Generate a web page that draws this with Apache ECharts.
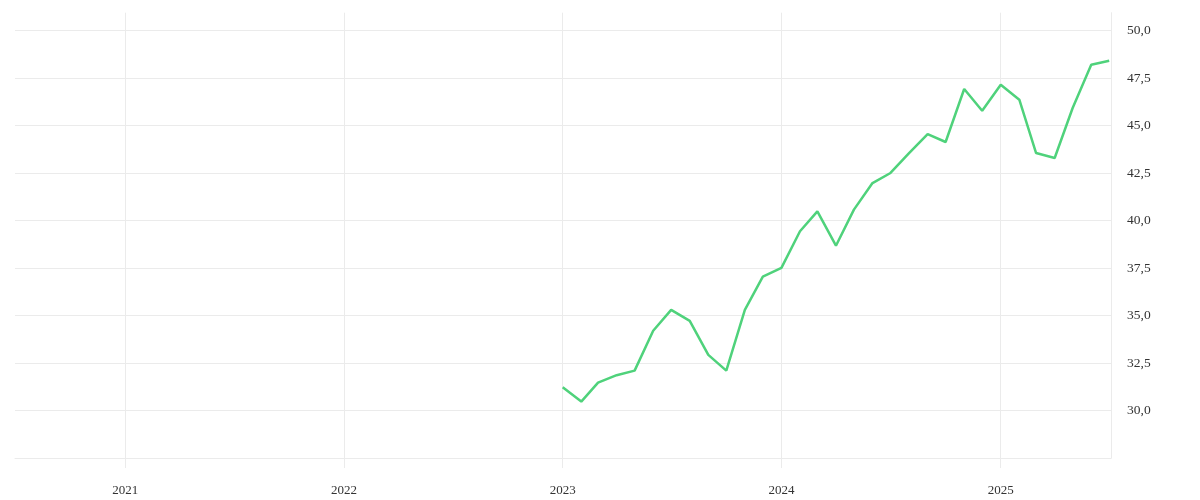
<!DOCTYPE html>
<html>
<head>
<meta charset="utf-8">
<script src="https://cdn.jsdelivr.net/npm/echarts@6/dist/echarts.min.js"></script>
<style>html,body{margin:0;padding:0;background:#fff}#c{width:1200px;height:500px}</style>
</head>
<body>
<div id="c"></div>
<script>
const dates = ['2023-01-01','2023-02-01','2023-03-01','2023-04-01','2023-05-01','2023-06-01','2023-07-01','2023-08-01','2023-09-01','2023-10-01','2023-11-01','2023-12-01',
  '2024-01-01','2024-02-01','2024-03-01','2024-04-01','2024-05-01','2024-06-01','2024-07-01','2024-08-01','2024-09-01','2024-10-01','2024-11-01','2024-12-01',
  '2025-01-01','2025-02-01','2025-03-01','2025-04-01','2025-05-01','2025-06-01','2025-07-01'];
const values = [31.23,30.47,31.47,31.86,32.1,34.2,35.3,34.72,32.93,32.1,35.3,37.05,
  37.51,39.44,40.49,38.68,40.58,41.98,42.51,43.56,44.56,44.14,46.93,45.79,
  47.16,46.37,43.56,43.3,45.93,48.21,48.42];
const yTicks = [30,32.5,35,37.5,40,42.5,45,47.5,50];

const chart = echarts.init(document.getElementById('c'), null, {renderer:'canvas'});
const font = '"Liberation Serif", serif';
chart.setOption({
  animation:false,
  backgroundColor:'#fff',
  grid:{left:15,right:89,top:12.7,bottom:42,containLabel:false},
  xAxis:{
    type:'time',
    min:'2020-07-01', max:'2025-07-04',
    minInterval:365*24*3600*1000,
    axisLine:{show:true,lineStyle:{color:'#ebebeb',width:1}},
    axisTick:{show:true,length:10,lineStyle:{color:'#ebebeb'}},
    splitLine:{show:true,showMinLine:false,showMaxLine:false,lineStyle:{color:'#ebebeb',width:1}},
    axisLabel:{margin:26,color:'#333',fontFamily:font,fontSize:13,
      formatter:function(v){const d=new Date(v);return (d.getMonth()===0&&d.getDate()===1)?String(d.getFullYear()):'';}}
  },
  yAxis:{
    type:'value',position:'right',min:27.5,max:50.95,interval:2.5,
    axisLine:{show:true,lineStyle:{color:'#ebebeb'}},
    axisTick:{show:false},
    splitLine:{show:true,showMaxLine:false,lineStyle:{color:'#ebebeb'}},
    axisLabel:{margin:16,color:'#333',fontFamily:font,fontSize:13.5,padding:[7,0,0,0],
      formatter:function(v){return yTicks.indexOf(Math.round(v*10)/10)>=0? v.toFixed(1).replace('.',','):'';}}
  },
  series:[{
    type:'line',
    data:dates.map((d,i)=>[d,values[i]]),
    showSymbol:false,
    lineStyle:{color:'#4fd27b',width:2.5},
    itemStyle:{color:'#4fd27b'}
  }]
});
</script>
</body>
</html>
